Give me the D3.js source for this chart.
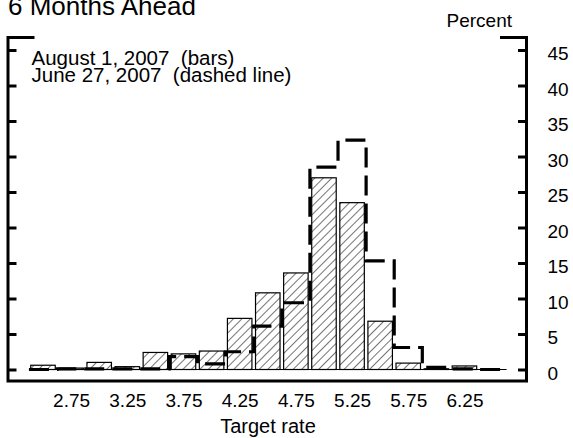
<!DOCTYPE html>
<html>
<head>
<meta charset="utf-8">
<script src="https://cdn.jsdelivr.net/npm/d3@7"></script>
<style>
  body { margin: 0; background: #fff; }
  svg { display: block; font-family: "Liberation Sans", Arial, sans-serif; }
</style>
</head>
<body>
<div id="chart"></div>
<script>
// Data: probability distribution of the target rate, 6 months ahead
const rates = [2.5, 2.75, 3.0, 3.25, 3.5, 3.75, 4.0, 4.25, 4.5, 4.75, 5.0, 5.25, 5.5, 5.75, 6.0, 6.25, 6.5];
const aug1 = [0.6, 0.2, 1.0, 0.4, 2.4, 2.2, 2.6, 7.2, 10.8, 13.6, 27.0, 23.5, 6.8, 0.9, 0.1, 0.5, 0.0];
const jun27 = [0.0, 0.1, 0.1, 0.1, 0.1, 1.8, 0.8, 2.5, 6.1, 9.4, 28.5, 32.3, 15.3, 3.1, 0.3, 0.1, 0.0];
const xTickLabels = [2.75, 3.25, 3.75, 4.25, 4.75, 5.25, 5.75, 6.25];
const yTicks = [0, 5, 10, 15, 20, 25, 30, 35, 40, 45];

const W = 573, H = 438;
const FRAME = { left: 8, right: 526.5, top: 37.5, bottom: 381 };
const HALF_BIN = 0.125;
const BAR_INSET = 1.8;
const FONT = 19;

const svg = d3.select('#chart').append('svg')
    .attr('width', W)
    .attr('height', H);

// Hatch pattern for bars
const pattern = svg.append('defs')
    .append('pattern')
    .attr('id', 'hatch')
    .attr('patternUnits', 'userSpaceOnUse')
    .attr('width', 6)
    .attr('height', 6)
    .attr('patternTransform', 'rotate(45)');
pattern.append('rect').attr('width', 6).attr('height', 6).attr('fill', '#fff');
pattern.append('line')
    .attr('x1', 0).attr('y1', 0).attr('x2', 0).attr('y2', 6)
    .attr('stroke', '#000').attr('stroke-width', 1.1);

const x = d3.scaleLinear()
    .domain([2.375, 6.625])
    .range([28.95, 506.6]);

const y = d3.scaleLinear()
    .domain([0, 45])
    .range([369.5, 50]);

// Baseline
svg.append('line')
    .attr('x1', x(2.375)).attr('x2', x(6.625))
    .attr('y1', y(0)).attr('y2', y(0))
    .attr('stroke', '#000').attr('stroke-width', 1.2);

// Bars (August 1)
svg.append('g')
    .selectAll('rect')
    .data(rates)
    .join('rect')
    .attr('x', d => x(d - HALF_BIN) + BAR_INSET)
    .attr('width', d => x(d + HALF_BIN) - x(d - HALF_BIN) - 2 * BAR_INSET)
    .attr('y', (d, i) => y(aug1[i]))
    .attr('height', (d, i) => y(0) - y(aug1[i]))
    .attr('fill', 'url(#hatch)')
    .attr('stroke', '#000')
    .attr('stroke-width', 1.2);

// Dashed step line (June 27)
const stepPoints = [];
rates.forEach((r, i) => {
    stepPoints.push([x(r - HALF_BIN), y(jun27[i])]);
    stepPoints.push([x(r + HALF_BIN), y(jun27[i])]);
});
svg.append('path')
    .attr('d', d3.line()(stepPoints))
    .attr('fill', 'none')
    .attr('stroke', '#000')
    .attr('stroke-width', 3.2)
    .attr('stroke-dasharray', '20,8');

// Frame: left, right, bottom full; top only corner stubs
const frame = svg.append('g')
    .attr('stroke', '#000')
    .attr('stroke-width', 3)
    .attr('fill', 'none')
    .attr('stroke-linecap', 'square');
frame.append('path')
    .attr('d', `M${FRAME.left + 25},${FRAME.top}H${FRAME.left}V${FRAME.bottom}H${FRAME.right}V${FRAME.top}H${FRAME.right - 25}`);

// Left ticks (inward, no labels)
svg.append('g')
    .attr('transform', `translate(${FRAME.left},0)`)
    .call(d3.axisLeft(y).tickValues(yTicks).tickSizeInner(-8.5).tickSizeOuter(0).tickFormat(''))
    .call(g => g.select('.domain').remove())
    .call(g => g.selectAll('.tick line').attr('stroke-width', 3));

// Right ticks (inward) with labels outside
svg.append('g')
    .attr('transform', `translate(${FRAME.right},0)`)
    .call(d3.axisRight(y).tickValues(yTicks).tickSizeInner(-8.5).tickSizeOuter(0).tickPadding(21))
    .call(g => g.select('.domain').remove())
    .call(g => g.selectAll('.tick line').attr('stroke-width', 3))
    .call(g => g.selectAll('.tick text')
        .attr('font-size', FONT)
        .attr('font-family', null)
        .attr('dy', '0.5em'));

// X labels (no tick marks)
svg.append('g')
    .attr('transform', `translate(0,${FRAME.bottom})`)
    .call(d3.axisBottom(x).tickValues(xTickLabels).tickSize(0).tickPadding(0).tickFormat(d3.format('.2f')))
    .call(g => g.select('.domain').remove())
    .call(g => g.selectAll('.tick text')
        .attr('font-size', FONT)
        .attr('font-family', null)
        .attr('dy', null)
        .attr('y', 25.5));

// Titles and notes
svg.append('text')
    .attr('x', 8).attr('y', 15)
    .attr('font-size', 26)
    .text('6 Months Ahead');

svg.append('text')
    .attr('x', 512).attr('y', 26.7)
    .attr('text-anchor', 'end')
    .attr('font-size', FONT)
    .text('Percent');

svg.append('text')
    .attr('x', 268).attr('y', 433)
    .attr('text-anchor', 'middle')
    .attr('font-size', 20)
    .text('Target rate');

const notes = svg.append('g')
    .attr('font-size', 20.5);
notes.append('text').attr('x', 31.5).attr('y', 65).text('August 1, 2007\u00a0\u00a0(bars)');
notes.append('text').attr('x', 31.5).attr('y', 81.5).text('June 27, 2007\u00a0\u00a0(dashed line)');
</script>
</body>
</html>
